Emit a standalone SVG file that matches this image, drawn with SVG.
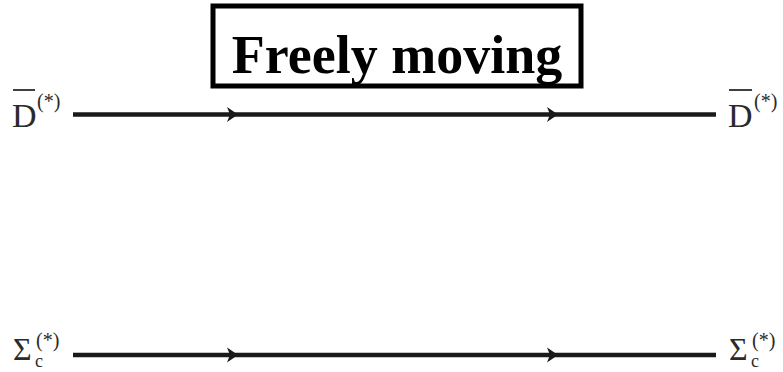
<svg xmlns="http://www.w3.org/2000/svg" width="783" height="372" viewBox="0 0 783 372">
<style>
.ln{stroke:#1a1a1a;stroke-width:4.5;fill:none}
.ar{fill:#1a1a1a}
.lab{font-family:"Liberation Serif","Times New Roman",serif;fill:#2a2a2a}
.bar{stroke:#2a2a2a;stroke-width:1.8}
.title{font-family:"Liberation Serif","Times New Roman",serif;font-weight:bold;font-size:54px;fill:#000}
</style>
<defs>
<path id="ah" d="M -11,-7.5 L 0,0 L -11,7.5 L -8,0 Z"/>
</defs>
<g id="title">
<rect x="213" y="6" width="368" height="80" fill="#fff" stroke="#000" stroke-width="5"/>
<text class="title" x="397" y="73" text-anchor="middle">Freely moving</text>
</g>
<g id="connectors">
<line class="ln" x1="73" y1="114.5" x2="716" y2="114.5"/>
<use href="#ah" class="ar" x="238" y="114.5"/>
<use href="#ah" class="ar" x="558" y="114.5"/>
<line class="ln" x1="73" y1="355" x2="716" y2="355"/>
<use href="#ah" class="ar" x="238" y="355"/>
<use href="#ah" class="ar" x="558" y="355"/>
</g>
<g id="D-left">
<text class="lab" x="12" y="127" font-size="34">D</text>
<line class="bar" x1="13" y1="90" x2="35" y2="90"/>
<text class="lab" x="37" y="108" font-size="20">(*)</text>
</g>
<g id="D-right">
<text class="lab" x="728" y="127" font-size="34">D</text>
<line class="bar" x1="729" y1="90" x2="752" y2="90"/>
<text class="lab" x="754" y="108" font-size="20">(*)</text>
</g>
<g id="Sigma-left">
<text class="lab" x="13" y="360" font-size="32">Σ</text>
<text class="lab" x="35" y="367" font-size="18">c</text>
<text class="lab" x="36" y="347" font-size="20">(*)</text>
</g>
<g id="Sigma-right">
<text class="lab" x="729" y="360" font-size="32">Σ</text>
<text class="lab" x="751" y="367" font-size="18">c</text>
<text class="lab" x="752" y="347" font-size="20">(*)</text>
</g>
</svg>
